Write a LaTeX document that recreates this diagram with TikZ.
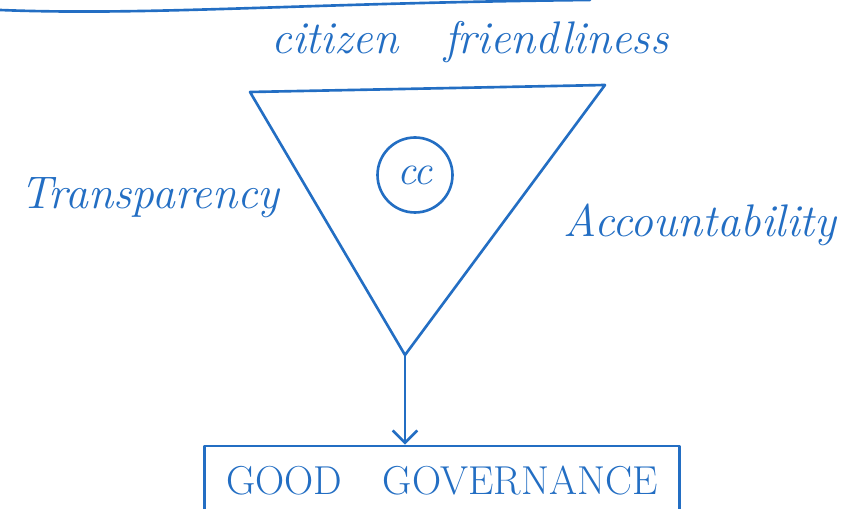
\documentclass[tikz,border=0pt]{standalone}
\usepackage{tikz}
\usetikzlibrary{arrows.meta, positioning}
\definecolor{ink}{RGB}{35,110,195}

\begin{document}
\begin{tikzpicture}[>={Straight Barb[length=7pt,width=14pt]}, x=0.02cm, y=-0.02cm,
		every node/.style={text=ink},
		pen/.style={draw=ink, line width=1.5pt, line cap=round, line join=round},
		handtext/.style={font=\fontsize{26}{28}\selectfont\itshape},
		ccnode/.style={circle, pen, minimum size=1.5cm, font=\fontsize{24}{26}\selectfont\itshape},
		govbox/.style={pen, minimum width=9.5cm, minimum height=1.4cm, font=\fontsize{23}{26}\selectfont}]
			\useasboundingbox (0,0) rectangle (842,509);
			% Stroke left over along the top
			\draw[pen] (0,10) .. controls (150,16) and (300,3) .. (590,0);
			% Triangle corners
			\coordinate (tl) at (250,92);
			\coordinate (tr) at (605,85);
			\coordinate (bt) at (405,355);
			\draw[pen] (tl) -- (tr) -- (bt) -- cycle;
			% Nodes
			\node (cc) [ccnode] at (415,175) {cc};
			\node (citizen) [handtext] at (470,42) {citizen\quad friendliness};
			\node (transp) [handtext] at (150,198) {Transparency};
			\node (account) [handtext] at (700,225) {Accountability};
			\node (gg) [govbox] at (442,481) {GOOD\quad GOVERNANCE};
			% Edges
			\draw[pen, ->] (bt) -- (gg.north -| bt);
		\end{tikzpicture}
\end{document}
